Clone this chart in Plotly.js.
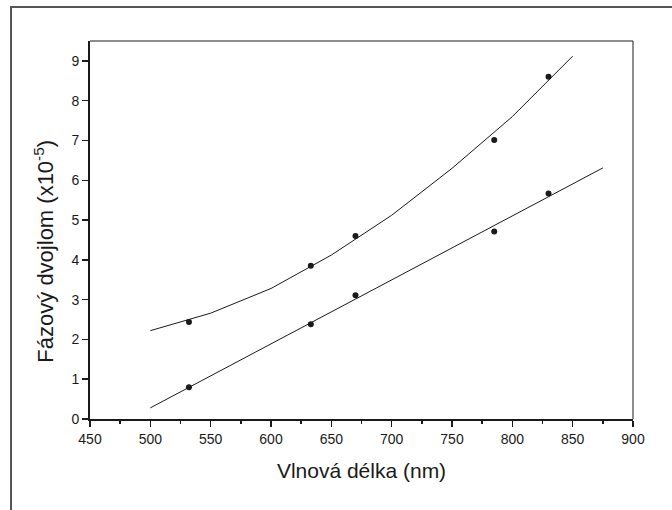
<!DOCTYPE html>
<html>
<head>
<meta charset="utf-8">
<script src="https://cdn.plot.ly/plotly-3.0.1.min.js"></script>
<style>
  html, body { margin: 0; padding: 0; background: #ffffff; }
  #wrap { position: relative; width: 672px; height: 510px; overflow: hidden; }
  #frame { position: absolute; left: 10px; top: 6px; width: 700px; height: 600px;
           border-top: 2px solid #555; border-left: 2px solid #555; pointer-events: none; }
  #chart { position: absolute; left: 0; top: 0; width: 672px; height: 510px; }
</style>
</head>
<body>
<div id="wrap">
  <div id="chart"></div>
  <div id="frame"></div>
</div>
<script>
// Measured points (wavelength in nm, birefringence in units of 1e-5)
const wavelengths = [532, 633, 670, 785, 830];
const upperMeasured = [2.44, 3.85, 4.60, 7.01, 8.60];
const lowerMeasured = [0.80, 2.38, 3.11, 4.71, 5.67];

// Fitted curves as drawn
const upperFitX = [500, 550, 600, 650, 700, 750, 800, 850];
const upperFitY = [2.22, 2.66, 3.28, 4.12, 5.12, 6.30, 7.60, 9.12];
const lowerFitX = [500, 875];
const lowerFitY = [0.28, 6.31];

const xTicks = [450, 500, 550, 600, 650, 700, 750, 800, 850, 900];
const yTicks = [0, 1, 2, 3, 4, 5, 6, 7, 8, 9];

const ink = '#1a1a1a';
const font = 'Liberation Sans, Arial, sans-serif';

const traces = [
  { x: upperFitX, y: upperFitY, mode: 'lines', line: { color: ink, width: 1 }, hoverinfo: 'skip' },
  { x: lowerFitX, y: lowerFitY, mode: 'lines', line: { color: ink, width: 1 }, hoverinfo: 'skip' },
  { x: wavelengths, y: upperMeasured, mode: 'markers', marker: { color: ink, size: 6 } },
  { x: wavelengths, y: lowerMeasured, mode: 'markers', marker: { color: ink, size: 6 } }
];

const layout = {
  width: 672, height: 510,
  margin: { l: 90, r: 39, t: 41, b: 91 },
  paper_bgcolor: '#ffffff', plot_bgcolor: '#ffffff',
  showlegend: false,
  font: { family: font, color: ink, size: 14 },
  xaxis: {
    range: [450, 900], tickvals: xTicks, ticktext: xTicks.map(String),
    showgrid: false, zeroline: false,
    showline: true, linecolor: ink, linewidth: 2,
    ticks: 'outside', ticklen: 6, tickwidth: 1.5, tickcolor: ink,
    minor: { dtick: 25, ticks: 'outside', ticklen: 3, tickwidth: 1.5, tickcolor: ink, showgrid: false },
    tickfont: { family: font, size: 14, color: ink },
    title: { text: 'Vlnová délka (nm)', font: { family: font, size: 21, color: ink }, standoff: 18 }
  },
  yaxis: {
    range: [0, 9.5], tickvals: yTicks, ticktext: yTicks.map(String),
    showgrid: false, zeroline: false,
    showline: true, linecolor: ink, linewidth: 2,
    ticks: 'outside', ticklen: 6, tickwidth: 1.5, tickcolor: ink,
    tickfont: { family: font, size: 14, color: ink }
  },
  // y-axis title placed as a rotated annotation, slightly below the plot's mid-height
  annotations: [
    { text: 'Fázový dvojlom (x10<sup>-5</sup>)', textangle: -90, showarrow: false,
      xref: 'paper', yref: 'paper', x: -0.085, y: 0.445, xanchor: 'center', yanchor: 'middle',
      font: { family: font, size: 22, color: ink } }
  ],
  shapes: [
    { type: 'line', xref: 'paper', yref: 'paper', x0: 0, x1: 1, y0: 1, y1: 1, line: { color: ink, width: 1 } },
    { type: 'line', xref: 'paper', yref: 'paper', x0: 1, x1: 1, y0: 0, y1: 1, line: { color: ink, width: 1 } }
  ]
};

Plotly.newPlot('chart', traces, layout, { displayModeBar: false, staticPlot: true });
</script>
</body>
</html>
